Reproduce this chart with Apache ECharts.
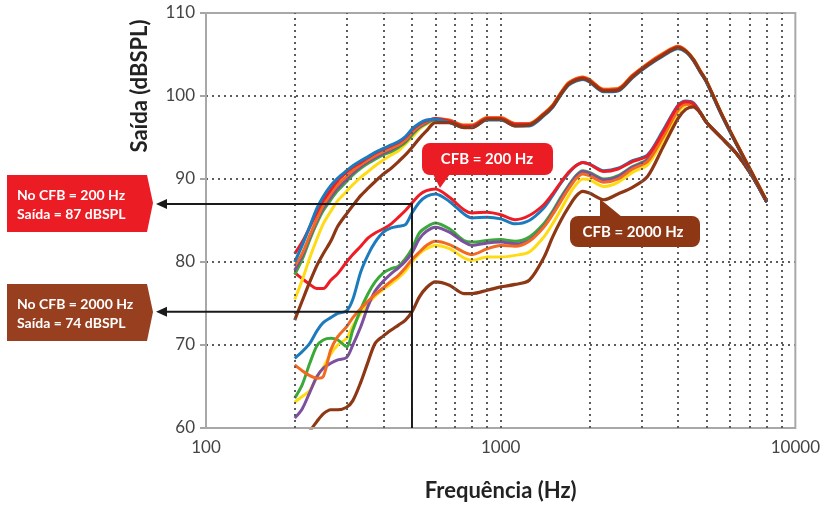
<!DOCTYPE html>
<html><head><meta charset="utf-8">
<script src="https://cdn.jsdelivr.net/npm/echarts@6/dist/echarts.min.js"></script>
<style>html,body{margin:0;padding:0;background:#fff}#c{width:823px;height:508px}</style>
</head><body><div id="c"></div>
<script>
// ---- data ----
const freqs = [200,212,225,238,250,265,280,300,315,335,355,375,400,425,450,475,500,530,560,600,670,750,800,900,1000,1120,1250,1400,1500,1600,1700,1800,1900,2000,2240,2500,2800,3150,3550,4000,4250,4500,4750,5000,5600,6300,7100,8000];
const gridFreqs = [200,300,400,500,600,700,800,900,1000,2000,3000,4000,5000,6000,7000,8000,9000];

// upper group (high level input)
const upBlue   = [80.0,82.0,84.3,86.5,87.9,89.2,90.1,91.0,91.6,92.2,92.7,93.2,93.7,94.1,94.5,95.1,96.0,96.7,97.1,97.2,96.8,96.2,96.2,97.1,97.1,96.4,96.4,97.6,98.6,100.1,101.3,101.8,102.0,101.7,100.5,100.6,102.2,103.6,104.8,105.7,105.3,104.3,102.9,101.6,97.8,94.2,90.7,87.2];
const upRed    = [81.0,82.4,84.2,86.0,87.4,88.7,89.8,90.8,91.4,92.0,92.6,93.1,93.6,94.0,94.4,95.0,95.9,96.6,97.0,97.3,97.0,96.4,96.4,97.3,97.3,96.6,96.6,97.8,98.8,100.3,101.5,102.0,102.2,101.9,100.7,100.8,102.4,103.8,105.0,105.9,105.4,104.4,103.0,101.7,97.9,94.3,90.8,87.3];
const upOrange = [79.5,81.0,83.2,85.2,86.8,88.2,89.3,90.3,91.0,91.7,92.3,92.8,93.3,93.7,94.1,94.7,95.6,96.4,96.9,97.3,97.1,96.5,96.5,97.4,97.4,96.7,96.7,97.9,98.9,100.4,101.6,102.1,102.3,102.0,100.8,100.9,102.5,103.9,105.1,106.0,105.5,104.5,103.1,101.8,98.0,94.4,90.9,87.4];
const upPurple = [79.0,80.7,83.0,85.0,86.5,87.8,88.9,90.0,90.7,91.5,92.1,92.6,93.1,93.5,94.0,94.6,95.5,96.3,96.8,97.2,97.0,96.4,96.4,97.3,97.3,96.6,96.6,97.8,98.8,100.3,101.5,102.0,102.2,101.9,100.7,100.8,102.4,103.8,105.0,105.9,105.4,104.4,103.0,101.7,97.9,94.3,90.8,87.3];
const upGreen  = [78.5,80.3,82.7,84.7,86.2,87.5,88.6,89.7,90.5,91.3,91.9,92.4,92.9,93.3,93.8,94.4,95.3,96.2,96.7,97.2,97.0,96.4,96.4,97.3,97.3,96.6,96.6,97.8,98.8,100.3,101.5,102.0,102.2,101.9,100.7,100.8,102.4,103.8,105.0,105.9,105.4,104.4,103.0,101.7,97.9,94.3,90.8,87.3];
const upYellow = [75.5,77.8,80.5,82.8,84.6,86.1,87.4,88.5,89.3,90.2,90.9,91.6,92.3,92.9,93.4,94.2,95.0,96.0,96.6,97.1,97.0,96.5,96.5,97.4,97.4,96.7,96.7,97.9,98.9,100.4,101.6,102.1,102.3,102.0,100.8,100.9,102.5,103.9,105.1,106.0,105.5,104.5,103.1,101.8,98.0,94.4,90.9,87.4];
const upBrown  = [73.0,75.3,77.6,79.6,81.0,82.5,84.3,85.8,86.8,88.0,88.9,89.7,90.6,91.3,92.1,92.9,93.8,94.9,95.8,96.8,96.8,96.2,96.2,97.2,97.2,96.4,96.5,97.7,98.7,100.2,101.4,101.9,102.1,101.8,100.6,100.7,102.3,103.7,104.9,105.8,105.4,104.4,103.0,101.7,97.9,94.3,90.8,87.3];

// lower group (low level input)
const loRed    = [78.7,78.0,77.3,76.8,76.8,77.8,78.6,80.0,80.9,81.9,82.9,83.5,84.0,84.6,85.4,86.2,87.1,88.1,88.6,88.8,87.8,86.3,85.9,86.0,85.7,85.1,85.6,86.9,88.2,89.6,90.8,91.6,92.0,91.8,90.9,91.2,92.1,92.8,95.6,98.8,99.3,99.1,98.0,96.8,95.0,93.1,90.5,87.3];
const loBlue   = [68.4,69.2,70.2,71.7,72.7,73.3,73.8,74.1,75.5,78.8,80.9,82.4,83.6,84.1,84.3,84.5,85.9,87.2,87.9,88.2,87.3,85.8,85.3,85.4,85.2,84.6,85.0,86.5,88.0,89.5,90.7,91.6,92.0,91.8,91.0,91.3,92.2,92.9,95.8,98.9,99.4,99.2,98.1,96.8,95.0,93.1,90.5,87.2];
const loGreen  = [63.6,65.2,67.8,69.9,70.6,70.8,70.6,69.8,71.8,74.3,76.2,77.6,78.7,79.2,79.5,80.4,81.6,83.5,84.2,84.7,84.0,82.6,82.4,82.6,82.7,82.5,83.0,84.6,86.1,87.8,89.2,90.4,91.0,90.8,90.0,90.4,91.5,92.4,95.3,98.5,99.1,99.0,98.0,96.8,95.0,93.1,90.5,87.2];
const loPurple = [61.2,62.3,64.3,66.2,67.2,67.8,68.2,68.5,70.0,72.2,74.7,76.5,77.7,78.6,79.3,80.1,81.1,82.8,83.7,84.2,83.6,82.4,82.0,82.3,82.4,82.2,82.6,84.3,85.9,87.6,89.1,90.3,90.9,90.7,89.9,90.3,91.4,92.3,95.2,98.5,99.1,99.0,98.0,96.8,95.0,93.1,90.5,87.2];
const loOrange = [67.6,66.9,66.3,66.0,66.2,69.4,71.0,72.2,73.3,74.4,75.3,76.1,76.9,77.7,78.4,79.3,80.3,81.2,82.0,82.5,82.1,81.2,80.9,81.6,82.0,81.9,82.5,84.2,85.7,87.3,88.8,90.0,90.6,90.4,89.6,90.0,91.2,92.1,95.0,98.3,99.0,99.0,98.0,96.8,95.0,93.1,90.5,87.2];
const loYellow = [63.1,63.8,64.5,66.2,67.3,68.9,70.0,70.8,72.3,73.8,75.0,75.9,76.7,77.4,78.1,78.9,80.0,81.0,81.6,82.0,81.6,80.5,80.2,80.6,80.6,80.8,81.2,83.0,84.6,86.3,88.0,89.3,90.0,89.9,89.1,89.6,90.8,91.7,94.6,98.0,98.9,99.0,98.1,96.9,95.0,93.1,90.5,87.2];
const loBrown  = [null,null,59.6,60.8,61.7,62.2,62.2,62.5,63.3,65.5,68.0,70.2,71.1,71.8,72.4,73.0,74.0,75.8,76.9,77.6,77.2,76.2,76.2,76.6,77.0,77.3,77.8,80.5,83.0,85.0,86.6,87.9,88.5,88.3,87.5,88.2,89.0,90.3,93.8,97.3,98.4,98.7,98.0,96.8,95.0,93.1,90.5,87.2];

// annotation values
const markFreq = 500;
const outCFB200 = 87;
const outCFB2000 = 74;
const yTickMin = 60, yTickMax = 110, yTickStep = 10;

const colors = {blue:'#1c7bbf', red:'#ee1d25', orange:'#f26a21', green:'#3aa93a', purple:'#7d4f9f', yellow:'#ffdb14', brown:'#8e3715'};
const FONT = 'Lato, "Liberation Sans", sans-serif';

function mk(name, arr, color, w) {
  return {
    name, type:'line', data: freqs.map((f,i)=>[f, arr[i]]),
    showSymbol:false, symbol:'none', smooth:0.3, connectNulls:false,
    lineStyle:{color, width:w||3}, itemStyle:{color}, clip:true, z:3
  };
}

const series = [
  mk('lo-yellow', loYellow, colors.yellow),
  mk('lo-green', loGreen, colors.green),
  mk('lo-purple', loPurple, colors.purple),
  mk('lo-orange', loOrange, colors.orange),
  mk('lo-blue', loBlue, colors.blue),
  mk('lo-red', loRed, colors.red),
  mk('lo-brown', loBrown, colors.brown, 3.2),
  mk('up-yellow', upYellow, colors.yellow),
  mk('up-green', upGreen, colors.green),
  mk('up-purple', upPurple, colors.purple),
  mk('up-orange', upOrange, colors.orange),
  mk('up-red', upRed, colors.red),
  mk('up-blue', upBlue, colors.blue),
  mk('up-brown', upBrown, colors.brown, 3.2)
];
series.push({
  name:'vgrid', type:'line', data:[], silent:true, z:1,
  markLine:{silent:true, symbol:['none','none'], label:{show:false}, animation:false,
    lineStyle:{color:'#5c5c5c', type:[2,4], width:2},
    emphasis:{disabled:true},
    data: gridFreqs.map(f=>({xAxis:f}))}
});

const chart = echarts.init(document.getElementById('c'), null, {renderer:'canvas'});
chart.setOption({
  animation:false,
  backgroundColor:'#fff',
  grid:{left:206, right:26, top:13, bottom:80, show:true, borderColor:'#a8a8a8', borderWidth:2, backgroundColor:'transparent', z:5},
  xAxis:{type:'log', logBase:10, min:100, max:10000,
    axisLine:{show:false}, axisTick:{show:false}, splitLine:{show:false},
    axisLabel:{color:'#444', fontSize:17, margin:11, fontFamily:FONT, formatter:(v)=>String(Math.round(v))},
    name:'Frequência (Hz)', nameLocation:'middle', nameGap:52,
    nameTextStyle:{color:'#222', fontSize:22, fontWeight:'bold', fontFamily:FONT}},
  yAxis:{type:'value', min:yTickMin, max:yTickMax, interval:yTickStep,
    axisLine:{show:false}, axisTick:{show:true, length:6, lineStyle:{color:'#888', width:1.5}},
    axisLabel:{color:'#444', fontSize:17, margin:11, fontFamily:FONT},
    splitLine:{show:true, showMinLine:false, showMaxLine:false, lineStyle:{color:'#5c5c5c', type:[2,4], width:2}}},
  series
});

const pA = chart.convertToPixel({xAxisIndex:0, yAxisIndex:0}, [markFreq, outCFB200]);
const pB = chart.convertToPixel({xAxisIndex:0, yAxisIndex:0}, [markFreq, outCFB2000]);
const pBot = chart.convertToPixel({xAxisIndex:0, yAxisIndex:0}, [markFreq, yTickMin]);

const tipX = 156;
const boxFont = 'bold 14px ' + FONT;
const g = [
  // y axis title
  {type:'text', x:140, y:86, rotation:Math.PI/2, z:10,
    style:{text:'Saída (dBSPL)', fill:'#222', font:'bold 22px ' + FONT, align:'center', verticalAlign:'middle'}},
  // black guide lines
  {type:'line', z:20, shape:{x1:tipX+8, y1:pA[1], x2:pA[0], y2:pA[1]}, style:{stroke:'#1a1a1a', lineWidth:2}},
  {type:'line', z:20, shape:{x1:tipX+8, y1:pB[1], x2:pA[0], y2:pB[1]}, style:{stroke:'#1a1a1a', lineWidth:2}},
  {type:'line', z:20, shape:{x1:pA[0], y1:pA[1]-1, x2:pA[0], y2:pBot[1]}, style:{stroke:'#1a1a1a', lineWidth:2}},
  {type:'polygon', z:20, shape:{points:[[tipX, pA[1]],[tipX+11, pA[1]-5],[tipX+11, pA[1]+5]]}, style:{fill:'#1a1a1a'}},
  {type:'polygon', z:20, shape:{points:[[tipX, pB[1]],[tipX+11, pB[1]-5],[tipX+11, pB[1]+5]]}, style:{fill:'#1a1a1a'}},
  // left red box
  {type:'polygon', z:20, shape:{points:[[7,175],[147,175],[153,203],[147,232],[7,232]]}, style:{fill:'#ec1c24'}},
  {type:'text', z:21, x:17, y:195, style:{text:'No CFB = 200 Hz', fill:'#fff', font:boxFont, verticalAlign:'middle'}},
  {type:'text', z:21, x:17, y:214, style:{text:'Saída = 87 dBSPL', fill:'#fff', font:boxFont, verticalAlign:'middle'}},
  // left brown box
  {type:'polygon', z:20, shape:{points:[[7,284],[147,284],[153,312],[147,341],[7,341]]}, style:{fill:'#973f1e'}},
  {type:'text', z:21, x:17, y:304, style:{text:'No CFB = 2000 Hz', fill:'#fff', font:boxFont, verticalAlign:'middle'}},
  {type:'text', z:21, x:17, y:323, style:{text:'Saída = 74 dBSPL', fill:'#fff', font:boxFont, verticalAlign:'middle'}},
  // red callout
  {type:'rect', z:20, shape:{x:422, y:143, width:131, height:32, r:8}, style:{fill:'#ec1c24'}},
  {type:'polygon', z:20, shape:{points:[[433,174],[450,174],[440,188]]}, style:{fill:'#ec1c24'}},
  {type:'text', z:21, x:487, y:159, style:{text:'CFB = 200 Hz', fill:'#fff', font:'bold 15px ' + FONT, align:'center', verticalAlign:'middle'}},
  // brown callout
  {type:'rect', z:20, shape:{x:570, y:216, width:130, height:31, r:8}, style:{fill:'#8e3715'}},
  {type:'polygon', z:20, shape:{points:[[600,199],[600,217],[622,217]]}, style:{fill:'#8e3715'}},
  {type:'text', z:21, x:633, y:232, style:{text:'CFB = 2000 Hz', fill:'#fff', font:'bold 15px ' + FONT, align:'center', verticalAlign:'middle'}}
];
chart.setOption({graphic:g});
</script>
</body></html>
